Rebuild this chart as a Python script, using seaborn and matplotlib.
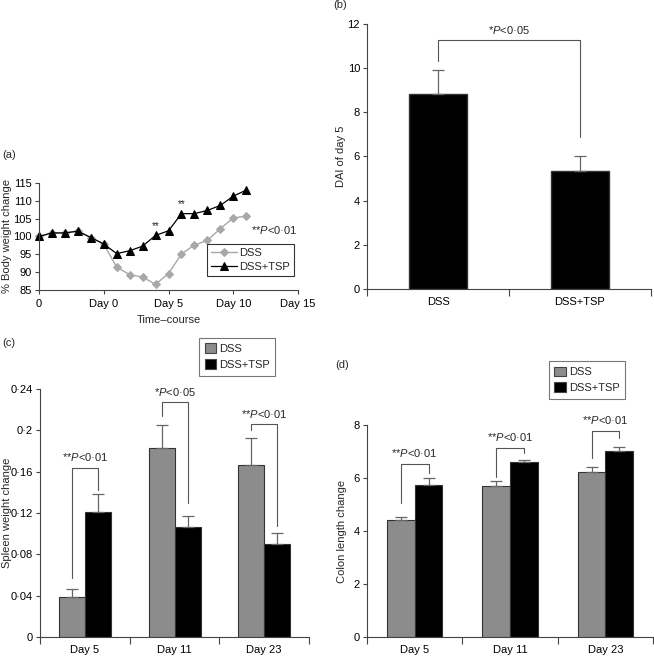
import numpy as np
import pandas as pd
import matplotlib
matplotlib.use("Agg")
import matplotlib.pyplot as plt
import seaborn as sns

# ---- data ----
# (a) body weight time-course
time_pts = [0, 1, 2, 3, 4, 5, 6, 7, 8, 9, 10, 11, 12, 13, 14, 15, 16]
bw_dss = [100, 101, 101, 101.5, 99.7, 97.9, 91.4, 89.3, 88.6, 86.6, 89.6, 95.1, 97.6, 98.9, 102.2, 105.2, 105.7]
bw_tsp = [100, 101, 101, 101.5, 99.7, 97.9, 95.2, 96.0, 97.3, 100.3, 101.6, 106.4, 106.4, 107.3, 108.7, 111.3, 113.0]
star_pts = [9, 11]
time_ticks = [0, 5, 10, 15, 20]
time_labels = ["0", "Day 0", "Day 5", "Day 10", "Day 15"]

# (b) DAI at day 5
groups = ["DSS", "DSS+TSP"]
dai_mean = [8.85, 5.33]
dai_err = [1.05, 0.7]

# (c) spleen weight, (d) colon length
days = ["Day 5", "Day 11", "Day 23"]
spleen_dss = [0.0385, 0.183, 0.166]
spleen_dss_err = [0.008, 0.0225, 0.0265]
spleen_tsp = [0.121, 0.1065, 0.090]
spleen_tsp_err = [0.017, 0.011, 0.0105]
spleen_p = ["**", "*", "**"]

colon_dss = [4.40, 5.68, 6.24]
colon_dss_err = [0.13, 0.19, 0.16]
colon_tsp = [5.74, 6.59, 7.03]
colon_tsp_err = [0.25, 0.10, 0.15]
colon_p = ["**", "**", "**"]

# ---- style ----
FS = 8
sns.set_style("ticks")
plt.rcParams["font.family"] = ["Liberation Sans", "DejaVu Sans"]
plt.rcParams["font.size"] = FS
plt.rcParams["mathtext.fontset"] = "custom"
plt.rcParams["mathtext.it"] = "Liberation Sans:italic"
plt.rcParams["mathtext.rm"] = "Liberation Sans"
plt.rcParams["axes.edgecolor"] = "#444444"
plt.rcParams["xtick.color"] = "#444444"
plt.rcParams["ytick.color"] = "#444444"
plt.rcParams["xtick.labelcolor"] = "black"
plt.rcParams["ytick.labelcolor"] = "black"
plt.rcParams["axes.linewidth"] = 0.8

GRAY = "#8c8c8c"
LINEGRAY = "#a8a8a8"
ERRC = "#666666"

fig = plt.figure(figsize=(6.54, 6.57), dpi=100)
ax_a = fig.add_axes([0.0596, 0.5586, 0.3961, 0.1629])
ax_b = fig.add_axes([0.5612, 0.5601, 0.4342, 0.4034])
ax_c = fig.add_axes([0.0612, 0.0304, 0.4113, 0.3775])
ax_d = fig.add_axes([0.5612, 0.0304, 0.4373, 0.3227])

def plabel(s):
    return "$\\it{P}$<0·%s" % s


def clean(ax):
    sns.despine(ax=ax)
    ax.tick_params(axis="both", direction="out", length=3, width=0.8, labelsize=FS)
    ax.tick_params(axis="y", pad=2)


# ---- (a) ----
df_a = pd.DataFrame({"t": time_pts * 2,
                     "w": bw_dss + bw_tsp,
                     "grp": ["DSS"] * len(time_pts) + ["DSS+TSP"] * len(time_pts)})
sns.lineplot(data=df_a[df_a.grp == "DSS"], x="t", y="w", ax=ax_a, color=LINEGRAY,
             marker="D", markersize=4.5, markeredgecolor=LINEGRAY, lw=1.0, label="DSS")
sns.lineplot(data=df_a[df_a.grp == "DSS+TSP"], x="t", y="w", ax=ax_a, color="black",
             marker="^", markersize=6, markeredgecolor="black", lw=0.9, label="DSS+TSP")
ax_a.set_xlim(0, 20)
ax_a.set_ylim(85, 115)
ax_a.set_xticks(time_ticks)
ax_a.set_xticklabels(time_labels)
ax_a.set_yticks([85, 90, 95, 100, 105, 110, 115])
ax_a.set_xlabel("Time–course", fontsize=FS)
ax_a.set_ylabel("% Body weight change", fontsize=FS)
ax_a.yaxis.set_label_coords(-0.106, 0.5)
for t in star_pts:
    ax_a.text(t, bw_tsp[time_pts.index(t)] + 1.2, "**", ha="center", va="bottom", fontsize=7)
ax_a.text(16.4, 101.8, "**" + plabel("01"), ha="left", va="center", fontsize=FS)
leg = ax_a.legend(loc="upper right", bbox_to_anchor=(0.985, 0.43), frameon=True, fancybox=False,
                  edgecolor="black", fontsize=FS, handlelength=2.4, borderpad=0.35,
                  labelspacing=0.35, handletextpad=0.2, borderaxespad=0)
leg.get_frame().set_linewidth(0.8)
clean(ax_a)
for ln in ax_a.lines:
    ln.set_clip_on(False)

# ---- (b) ----
sns.barplot(x=groups, y=dai_mean, ax=ax_b, color="black", width=0.41,
            edgecolor="#333333", errorbar=None, saturation=1)
cx = [p.get_x() + p.get_width() / 2 for p in ax_b.patches]
ax_b.errorbar(cx, dai_mean, yerr=[[0, 0], dai_err], fmt="none", ecolor=ERRC,
              elinewidth=0.9, capsize=4.5, capthick=0.9, zorder=1)
ax_b.set_xlim(-0.5, 1.5)
ax_b.set_ylim(0, 12)
ax_b.set_yticks([0, 2, 4, 6, 8, 10, 12])
ax_b.set_ylabel("DAI of day 5", fontsize=FS)
ax_b.yaxis.set_label_coords(-0.074, 0.5)
ax_b.set_xticks([-0.5, 0.5, 1.5], minor=True)
clean(ax_b)
ax_b.tick_params(axis="x", which="major", length=0, pad=6)
ax_b.tick_params(axis="x", which="minor", length=5, width=0.8, direction="out")
ax_b.plot([cx[0], cx[0], cx[1], cx[1]], [10.33, 11.26, 11.26, 6.88], color="#555555", lw=0.8)
ax_b.text((cx[0] + cx[1]) / 2, 11.45, "*" + plabel("05"), ha="center", va="bottom", fontsize=FS)


# ---- (c) and (d) grouped bars ----
def grouped(ax, dss, dss_err, tsp, tsp_err, ylim, yticks, yticklabels, ylabel,
            brackets, stars, legpos, labx):
    df = pd.DataFrame({"day": days * 2, "val": dss + tsp,
                       "grp": ["DSS"] * 3 + ["DSS+TSP"] * 3})
    sns.barplot(data=df, x="day", y="val", hue="grp", ax=ax, palette=[GRAY, "black"],
                width=0.58, errorbar=None, saturation=1, edgecolor="#333333", linewidth=0.8)
    centers = []
    for cont, vals, errs in zip(ax.containers, [dss, tsp], [dss_err, tsp_err]):
        xs = [b.get_x() + b.get_width() / 2 for b in cont]
        centers.append(xs)
        ax.errorbar(xs, vals, yerr=[[0] * 3, errs], fmt="none", ecolor=ERRC,
                    elinewidth=0.9, capsize=4.5, capthick=0.9, zorder=1)
    for i, (top, lft, rgt, ty) in enumerate(brackets):
        x0, x1 = centers[0][i], centers[1][i]
        ax.plot([x0, x0, x1, x1], [lft, top, top, rgt], color="#555555", lw=0.8)
        ax.text((x0 + x1) / 2, ty, stars[i] + plabel("01" if stars[i] == "**" else "05"),
                ha="center", va="bottom", fontsize=FS)
    ax.set_xlim(-0.5, 2.5)
    ax.set_ylim(*ylim)
    ax.set_yticks(yticks)
    ax.set_yticklabels(yticklabels)
    ax.set_xlabel("")
    ax.set_ylabel(ylabel, fontsize=FS)
    ax.yaxis.set_label_coords(labx, 0.5)
    ax.set_xticks([-0.5, 0.5, 1.5, 2.5], minor=True)
    clean(ax)
    ax.tick_params(axis="x", which="major", length=0, pad=6)
    ax.tick_params(axis="x", which="minor", length=5, width=0.8, direction="out")
    h, l = ax.get_legend_handles_labels()
    leg = ax.legend(h, l, loc="upper left", bbox_to_anchor=legpos, frameon=True, fancybox=False,
                    edgecolor="#555555", fontsize=FS, handlelength=1.0, handleheight=1.0,
                    borderpad=0.5, labelspacing=0.45, handletextpad=0.3, borderaxespad=0)
    leg.get_frame().set_linewidth(0.8)
    for p in leg.get_patches():
        p.set_edgecolor("#444444")


grouped(ax_c, spleen_dss, spleen_dss_err, spleen_tsp, spleen_tsp_err,
        (0, 0.24), [0, 0.04, 0.08, 0.12, 0.16, 0.2, 0.24],
        ["0", "0·04", "0·08", "0·12", "0·16", "0·2", "0·24"], "Spleen weight change",
        [(0.164, 0.057, 0.1426, 0.168), (0.227, 0.214, 0.130, 0.231), (0.206, 0.200, 0.107, 0.210)],
        spleen_p, (0.591, 1.206), -0.104)

grouped(ax_d, colon_dss, colon_dss_err, colon_tsp, colon_tsp_err,
        (0, 8), [0, 2, 4, 6, 8], ["0", "2", "4", "6", "8"], "Colon length change",
        [(6.53, 5.05, 6.18, 6.72), (7.12, 6.05, 6.93, 7.31), (7.79, 6.74, 7.50, 7.98)],
        colon_p, (0.636, 1.302), -0.07)

# panel letters
fig.text(0.003, 0.764, "(a)", fontsize=FS, va="center")
fig.text(0.509, 0.992, "(b)", fontsize=FS, va="center")
fig.text(0.003, 0.478, "(c)", fontsize=FS, va="center")
fig.text(0.512, 0.444, "(d)", fontsize=FS, va="center")

fig.savefig("out.png", dpi=100)
